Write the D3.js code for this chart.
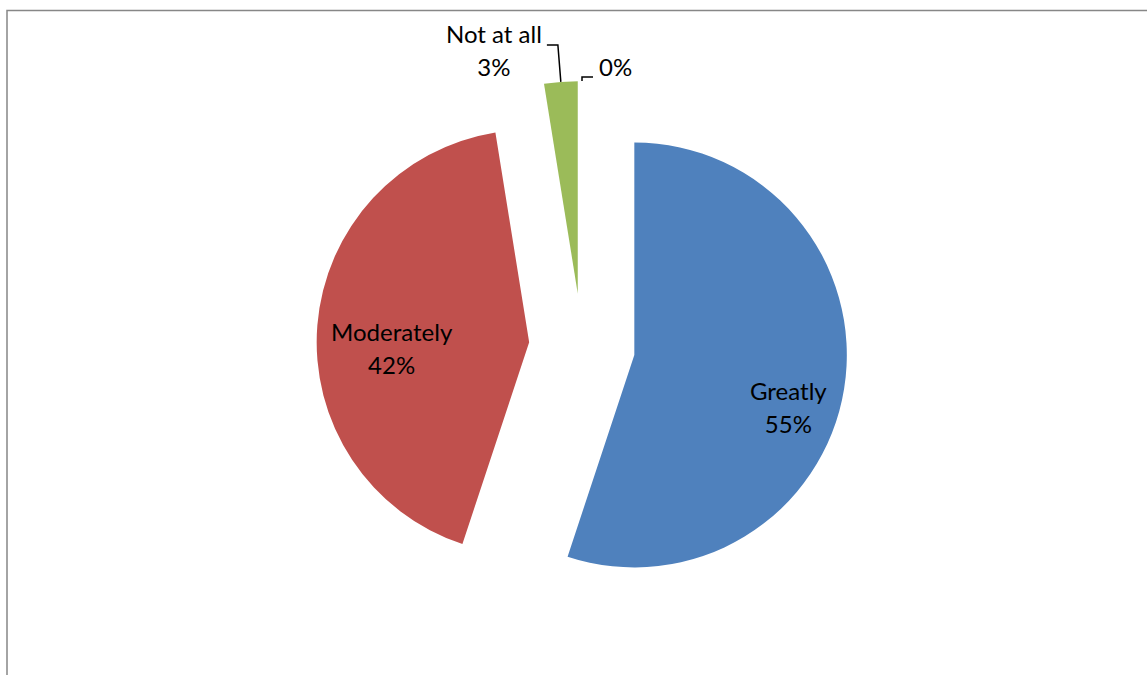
<!DOCTYPE html>
<html>
<head>
<meta charset="utf-8">
<script src="https://cdn.jsdelivr.net/npm/d3@7"></script>
<style>
  html, body { margin: 0; padding: 0; background: #ffffff; }
  svg { display: block; }
  text { font-family: Lato, "Open Sans", sans-serif; fill: #000; }
</style>
</head>
<body>
<div id="chart"></div>
<script>
// Survey responses: share of respondents per answer (percent)
const categories = ["Greatly", "Moderately", "Not at all", ""];
const values = [55.08, 42.37, 2.54, 0];
const colors = ["#4F81BD", "#C0504D", "#9BBB59", "#8064A2"];

const width = 1147, height = 675;
const cx = 582, cy = 346.5;     // pie centre
const radius = 212.5;
const explode = 53;             // every slice is pulled out by this distance
const fontSize = 24;
const lineGap = 33;

// small hand adjustments for the in-slice labels (best-fit placement)
const labelNudge = { "Greatly": [3, 5], "Moderately": [15, -5] };

const svg = d3.select("#chart").append("svg")
  .attr("width", width)
  .attr("height", height);

// chart area frame
svg.append("rect")
  .attr("x", 7).attr("y", 10.5)
  .attr("width", width + 20).attr("height", height + 20)
  .attr("fill", "none")
  .attr("stroke", "#878787")
  .attr("stroke-width", 1.5);

const total = d3.sum(values);
const pct = d3.format(".0%");

const pie = d3.pie().sort(null).value(d => d.value).startAngle(0).endAngle(2 * Math.PI);
const arcs = pie(categories.map((c, i) => ({ category: c, value: values[i], color: colors[i] })));

const arc = d3.arc().innerRadius(0).outerRadius(radius);

const unit = a => [Math.sin(a), -Math.cos(a)];

arcs.forEach(d => {
  d.mid = (d.startAngle + d.endAngle) / 2;
  const [ux, uy] = unit(d.mid);
  d.vx = cx + explode * ux;
  d.vy = cy + explode * uy;
  d.lines = d.data.category ? [d.data.category, pct(d.data.value / total)] : [pct(d.data.value / total)];
});

const g = svg.append("g");

g.selectAll("path.slice")
  .data(arcs)
  .join("path")
  .attr("class", "slice")
  .attr("transform", d => `translate(${d.vx},${d.vy})`)
  .attr("d", arc)
  .attr("fill", d => d.data.color);

// Labels inside the large slices
const inside = arcs.filter(d => d.endAngle - d.startAngle > 0.5);
inside.forEach(d => {
  const [ux, uy] = unit(d.mid);
  const nudge = labelNudge[d.data.category] || [0, 0];
  const px = d.vx + radius * 0.72 * ux + nudge[0];
  const py = d.vy + radius * 0.72 * uy + 24 + nudge[1];
  const t = svg.append("text")
    .attr("text-anchor", "middle")
    .attr("font-size", fontSize);
  const n = d.lines.length;
  d.lines.forEach((line, i) => {
    t.append("tspan")
      .attr("x", px)
      .attr("y", py + (i - (n - 1) / 2) * lineGap + fontSize * 0.36)
      .text(line);
  });
});

// Thin slices get leader lines and outside labels
const outside = arcs.filter(d => d.endAngle - d.startAngle <= 0.5);
const elbowRadius = { "Not at all": radius + 37, "": radius + 4 };
const elbowSide = { "Not at all": -1, "": 1 };

outside.forEach(d => {
  const [ux, uy] = unit(d.mid);
  const p0 = [d.vx + radius * ux, d.vy + radius * uy];
  const er = elbowRadius[d.data.category];
  const side = elbowSide[d.data.category];
  const p1 = [d.vx + er * ux, d.vy + er * uy];
  const p2 = [p1[0] + side * 11, p1[1]];

  svg.append("path")
    .attr("d", d3.line()([p0, p1, p2]))
    .attr("fill", "none")
    .attr("stroke", "#000")
    .attr("stroke-width", 1.5);

  const t = svg.append("text").attr("font-size", fontSize);
  const baseY = p1[1] - 1.5;
  if (side < 0) {
    // measure widest line to centre the block to the left of the leader
    const tmp = svg.append("text").attr("font-size", fontSize).text(d.lines[0]);
    const w = d3.max(d.lines, l => { tmp.text(l); return tmp.node().getComputedTextLength(); });
    tmp.remove();
    const centreX = p2[0] - 5 - w / 2;
    t.attr("text-anchor", "middle");
    d.lines.forEach((line, i) => {
      t.append("tspan").attr("x", centreX).attr("y", baseY + i * lineGap).text(line);
    });
  } else {
    t.attr("text-anchor", "start");
    d.lines.forEach((line, i) => {
      t.append("tspan").attr("x", p2[0] + 6).attr("y", baseY + i * lineGap).text(line);
    });
  }
});
</script>
</body>
</html>
